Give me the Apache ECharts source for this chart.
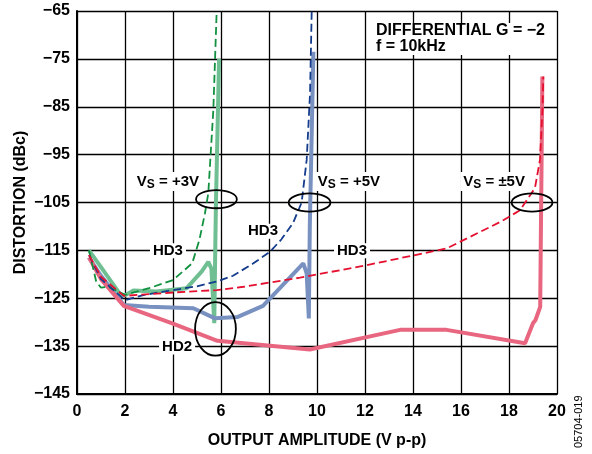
<!DOCTYPE html>
<html><head><meta charset="utf-8">
<script src="https://cdn.jsdelivr.net/npm/echarts@6/dist/echarts.min.js"></script>
<style>html,body{margin:0;padding:0;background:#fff}#c{width:592px;height:454px}</style>
</head><body><div id="c"></div>
<script>
// Data (x = output amplitude V p-p, y = distortion dBc)
var hd3_3V = [[0.5,-115],[0.8,-121.5],[1.0,-122.8],[1.3,-122.6],[2.0,-124.3],[3.0,-122.9],[4.0,-121.2],[4.8,-117.7],[5.1,-112.8],[5.33,-107.3],[5.47,-103.1],[5.68,-85.7],[5.82,-65]];
var hd2_3V = [[0.5,-115],[1.0,-118.5],[1.8,-124.2],[2.0,-124.4],[2.35,-123.4],[3.3,-123.6],[4.57,-122.9],[5.2,-119.4],[5.47,-117.4],[5.6,-118.8],[5.72,-130.2],[5.76,-115],[5.79,-105],[5.92,-75]];
var hd3_5V = [[0.5,-116],[1.0,-121],[2.0,-125.4],[2.8,-124.3],[4.0,-123.3],[5.0,-122.5],[5.82,-121.5],[6.5,-120.3],[7.35,-117.7],[8.04,-115.3],[8.5,-112.8],[9.0,-109.3],[9.36,-105],[9.57,-96.1],[9.71,-82.2],[9.78,-65]];
var hd2_5V = [[0.5,-116.5],[1.0,-120.3],[1.95,-126.4],[3.0,-126.8],[4.85,-127.1],[5.75,-129.2],[6.7,-128.9],[7.75,-126.6],[9.43,-117.7],[9.57,-119.8],[9.66,-129.2],[9.7,-110],[9.72,-105],[9.85,-73.5]];
var hd3_pm5V = [[0.5,-116],[1.0,-120.5],[1.95,-124.5],[4.0,-123.8],[5.82,-123.3],[6.94,-122.6],[9.29,-120.7],[12.07,-118.1],[15.4,-114.6],[17.7,-108.9],[18.46,-106.6],[19.08,-102],[19.29,-96.1],[19.4,-85],[19.43,-78.7]];
var hd2_pm5V = [[0.5,-116.5],[1.0,-121],[1.95,-126.6],[4.0,-130.3],[5.85,-133.9],[9.7,-135.7],[13.46,-131.6],[15.4,-131.6],[18.67,-134.4],[19.0,-130.2],[19.1,-129.6],[19.3,-126.8],[19.39,-78.7]];
var xTicks = [0,2,4,6,8,10,12,14,16,18,20];
var yTicks = [-145,-135,-125,-115,-105,-95,-85,-75,-65];
// annotation ellipses: [cx, cy, rx(V), ry(dB)]
var ellipses = [[5.81,-104.3,0.85,1.9],[9.69,-105,0.87,1.9],[18.96,-105,0.85,1.9],[5.77,-131.4,0.85,5.6]];
// text annotations: [x, y, text]
var labels = [[3.79,-100.6,'V{s|S} = +3V'],[11.33,-100.6,'V{s|S} = +5V'],[17.38,-100.6,'V{s|S} = ±5V'],
  [3.79,-115.1,'HD3'],[7.75,-111,'HD3'],[11.46,-115.1,'HD3'],[4.17,-135.2,'HD2']];

var FONT = '"Liberation Sans", Arial, sans-serif';
function line(name, data, color, width, dashed){
  return {name:name, type:'line', data:data, symbol:'none', silent:true, z: dashed?4:3,
    lineStyle:{color:color, width:width, type: dashed?[8,4]:'solid'}};
}
var chart = echarts.init(document.getElementById('c'), null, {renderer:'canvas'});
var option = {
  animation:false,
  grid:{left:77, top:11, right:35, bottom:60},
  xAxis:{type:'value', min:0, max:20, interval:2,
    name:'OUTPUT AMPLITUDE (V p-p)', nameLocation:'middle', nameGap:39,
    nameTextStyle:{fontFamily:FONT, fontWeight:'bold', fontSize:16, color:'#000'},
    axisLine:{show:true, lineStyle:{color:'#000', width:2}}, axisTick:{show:false},
    axisLabel:{fontFamily:FONT, fontWeight:'bold', fontSize:16, color:'#000', margin:10},
    splitLine:{show:true, lineStyle:{color:'#000', width:1.3}}},
  yAxis:{type:'value', min:-145, max:-65, interval:10,
    name:'DISTORTION (dBc)', nameLocation:'middle', nameGap:48, nameRotate:90, nameMoveOverlap:false,
    nameTextStyle:{fontFamily:FONT, fontWeight:'bold', fontSize:16, color:'#000'},
    axisLine:{show:true, lineStyle:{color:'#000', width:2}}, axisTick:{show:false},
    axisLabel:{fontFamily:FONT, fontWeight:'bold', fontSize:16, color:'#000', margin:7,
      formatter:function(v){return String(v).replace('-','\u2212');}},
    splitLine:{show:true, lineStyle:{color:'#000', width:1.3}}},
  series:[
    line('HD2 +3V', hd2_3V, '#6fbf93', 4, false),
    line('HD2 +5V', hd2_5V, '#7891c0', 4, false),
    line('HD2 ±5V', hd2_pm5V, '#e8667f', 4, false),
    line('HD3 +3V', hd3_3V, '#11913f', 1.8, true),
    line('HD3 +5V', hd3_5V, '#143c8c', 1.8, true),
    line('HD3 ±5V', hd3_pm5V, '#e5102f', 1.8, true),
    {type:'custom', silent:true, z:6, data:ellipses,
     renderItem:function(params, api){
       var c = api.coord([api.value(0), api.value(1)]);
       var e = api.coord([api.value(0)+api.value(2), api.value(1)+api.value(3)]);
       var rx = Math.abs(e[0]-c[0]), ry = Math.abs(e[1]-c[1]);
       return {type:'ellipse', shape:{cx:c[0], cy:c[1], rx:rx, ry:ry},
         style:{fill:null, stroke:'#000', lineWidth:1.8}};
     }},
    {type:'custom', silent:true, z:7, data:labels.map(function(d){return [d[0],d[1]];}),
     renderItem:function(params, api){
       var c = api.coord([api.value(0), api.value(1)]);
       var t = labels[params.dataIndex][2];
       return {type:'text', x:c[0], y:c[1], style:{text:t, align:'center', verticalAlign:'middle',
         fontFamily:FONT, fontWeight:'bold', fontSize:15, fill:'#000', backgroundColor:'#fff', padding:[0,3],
         rich:{s:{fontFamily:FONT, fontWeight:'bold', fontSize:12, fill:'#000', verticalAlign:'bottom', padding:[7,0,0,0], backgroundColor:'#fff'}}}};
     }}
  ],
  graphic:[
    {type:'text', left:376, top:23, style:{text:'DIFFERENTIAL G = \u22122\nf = 10kHz', fontFamily:FONT, fontWeight:'bold', fontSize:16, fill:'#000', lineHeight:16, backgroundColor:'#fff'}, z:10},
    {type:'text', x:573, y:448, rotation:Math.PI/2, style:{text:'05704-019', fontFamily:FONT, fontSize:11, fill:'#000'}, z:10}
  ]
};
chart.setOption(option);
</script></body></html>
